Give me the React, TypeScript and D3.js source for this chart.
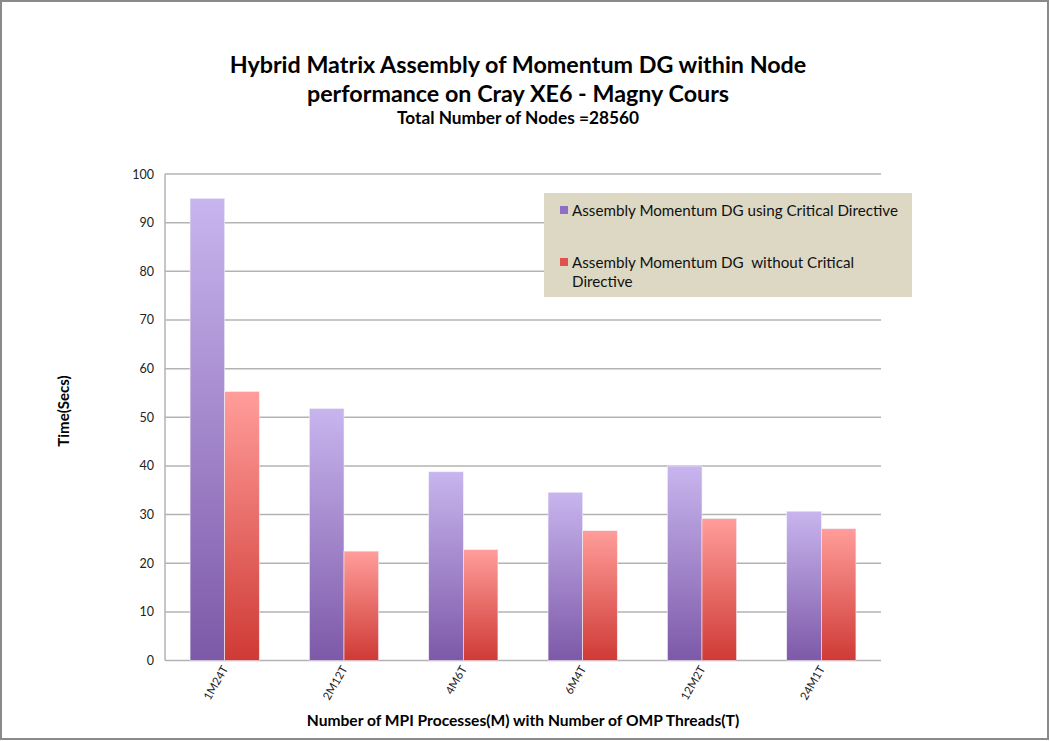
import * as d3 from "d3";

const categories = ["1M24T", "2M12T", "4M6T", "6M4T", "12M2T", "24M1T"];
const withCritical = [95.0, 51.8, 38.8, 34.6, 40.0, 30.7];
const withoutCritical = [55.3, 22.5, 22.8, 26.7, 29.2, 27.1];
const seriesNames = [
  "Assembly Momentum DG using Critical Directive",
  "Assembly Momentum DG  without Critical Directive",
];
const yTicks = [0, 10, 20, 30, 40, 50, 60, 70, 80, 90, 100];

const width = 1050,
  height = 741;
const margin = { top: 174, right: 169, bottom: 80, left: 165 };
const font = "Lato, 'Open Sans', sans-serif";

export default function App() {
  const x = d3
    .scaleBand<string>()
    .domain(categories)
    .range([margin.left, width - margin.right])
    .paddingInner(0.42)
    .paddingOuter(0.21);
  const sub = d3
    .scaleBand<number>()
    .domain([0, 1])
    .range([0, x.bandwidth()]);
  const y = d3
    .scaleLinear()
    .domain([0, 100])
    .range([height - margin.bottom - 0.4, margin.top]);

  const series = [withCritical, withoutCritical];
  const fills = ["url(#gradPurple)", "url(#gradRed)"];
  const swatch = ["#8f6fc6", "#e0524e"];

  return (
    <svg
      width={width}
      height={height}
      style={{ position: "absolute", left: 0, top: 0, background: "white" }}
      fontFamily={font}
    >
      <defs>
        <linearGradient id="gradPurple" x1="0" x2="0" y1="0" y2="1">
          <stop offset="0%" stopColor="#c8b5ee" />
          <stop offset="100%" stopColor="#7d59a8" />
        </linearGradient>
        <linearGradient id="gradRed" x1="0" x2="0" y1="0" y2="1">
          <stop offset="0%" stopColor="#ff9d9a" />
          <stop offset="100%" stopColor="#cf3a35" />
        </linearGradient>
      </defs>
      <rect x={1} y={1} width={width - 3} height={height - 3} fill="white" stroke="#8a8a8a" strokeWidth={2} />

      {/* titles */}
      <g textAnchor="middle" fontWeight="bold" fill="#000">
        <text x={518} y={73} fontSize={23.3}>
          Hybrid Matrix Assembly of Momentum DG within Node
        </text>
        <text x={518} y={102} fontSize={23.3}>
          performance on Cray XE6 - Magny Cours
        </text>
        <text x={518} y={124} fontSize={17.3}>
          Total Number of Nodes =28560
        </text>
      </g>

      {/* grid */}
      <g>
        {yTicks.map((t) => (
          <g key={t}>
            <line
              x1={margin.left}
              x2={width - margin.right}
              y1={y(t)}
              y2={y(t)}
              stroke="#b3b3b3"
              strokeWidth={1.5}
            />
            <text x={154} y={y(t) + 4.5} textAnchor="end" fontSize={12.5} fill="#222">
              {t}
            </text>
          </g>
        ))}
        <line
          x1={margin.left}
          x2={margin.left}
          y1={y(0)}
          y2={y(100)}
          stroke="#b3b3b3"
          strokeWidth={1.5}
        />
      </g>

      {/* bars */}
      {categories.map((c, i) => (
        <g key={c} transform={`translate(${x(c)},0)`}>
          {series.map((s, k) => (
            <rect
              key={k}
              x={sub(k)}
              y={y(s[i])}
              width={sub.bandwidth()}
              height={y(0) - y(s[i])}
              fill={fills[k]}
              stroke="#f2eef8"
              strokeWidth={0.6}
            />
          ))}
          <text
            transform={`translate(${x.bandwidth() / 2 + 4},${y(0) + 8}) rotate(-60)`}
            textAnchor="end"
            fontSize={11.5}
            fill="#222"
          >
            {c}
          </text>
        </g>
      ))}

      {/* axis titles */}
      <text
        x={523}
        y={726}
        textAnchor="middle"
        fontWeight="bold"
        fontSize={15.6}
      >
        Number of MPI Processes(M) with Number of OMP Threads(T)
      </text>
      <text
        transform={`translate(69,411) rotate(-90)`}
        textAnchor="middle"
        fontWeight="bold"
        fontSize={15}
      >
        Time(Secs)
      </text>

      {/* legend */}
      <g>
        <rect x={544} y={193} width={368} height={104} fill="#dcd8c3" />
        <rect x={560} y={206} width={8} height={8} fill={swatch[0]} />
        <text x={572} y={216} fontSize={15.2} fill="#111">
          {seriesNames[0]}
        </text>
        <rect x={560} y={258} width={8} height={8} fill={swatch[1]} />
        <text x={572} y={268} fontSize={15.2} fill="#111">
          <tspan x={572} style={{ whiteSpace: "pre" }}>Assembly Momentum DG  without Critical</tspan>
          <tspan x={572} dy={19}>Directive</tspan>
        </text>
      </g>
    </svg>
  );
}
